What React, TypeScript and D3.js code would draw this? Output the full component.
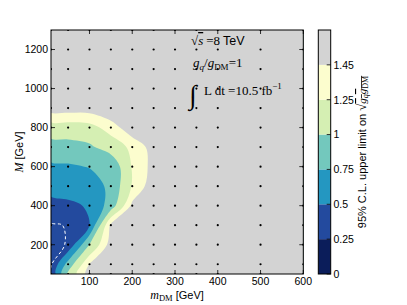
import * as d3 from "d3";

// signal grid: dark matter mass and mediator mass (GeV)
const mDM = [10, 50, 100, 150, 200, 250, 300, 350, 400, 500, 600];
const mMed = [50, 100, 200, 300, 400, 500, 600, 700, 800, 900, 1000, 1100, 1200, 1300];

// 95% CL upper limit on sqrt(gq gDM); one row per entry of mMed, columns follow mDM
const limits = [
  [0.29, 1.05, 1.55, 1.9, 2.1, 2.3, 2.5, 2.6, 2.7, 2.9, 3.0],
  [0.27, 0.85, 1.46, 1.85, 2.1, 2.3, 2.5, 2.6, 2.7, 2.9, 3.0],
  [0.26, 0.31, 1.0, 1.55, 1.9, 2.1, 2.3, 2.5, 2.6, 2.8, 3.0],
  [0.28, 0.31, 0.5, 1.5, 1.8, 2.0, 2.2, 2.4, 2.5, 2.7, 2.9],
  [0.44, 0.46, 0.52, 0.86, 1.5, 1.8, 2.0, 2.2, 2.4, 2.6, 2.8],
  [0.57, 0.59, 0.64, 0.8, 1.27, 1.58, 1.8, 2.0, 2.2, 2.5, 2.7],
  [0.705, 0.72, 0.76, 0.8, 1.27, 1.52, 1.8, 2.0, 2.2, 2.5, 2.7],
  [0.9, 0.91, 0.96, 1.12, 1.3, 1.54, 1.8, 2.0, 2.2, 2.5, 2.7],
  [1.13, 1.14, 1.17, 1.34, 1.6, 1.8, 2.0, 2.2, 2.3, 2.6, 2.8],
  [1.56, 1.55, 1.55, 1.65, 1.85, 2.0, 2.2, 2.3, 2.5, 2.7, 2.9],
  [1.9, 1.9, 1.9, 1.95, 2.1, 2.2, 2.3, 2.5, 2.6, 2.8, 3.0],
  [2.1, 2.1, 2.1, 2.15, 2.2, 2.3, 2.4, 2.6, 2.7, 2.9, 3.1],
  [2.3, 2.3, 2.3, 2.3, 2.4, 2.5, 2.6, 2.7, 2.8, 3.0, 3.2],
  [2.5, 2.5, 2.5, 2.5, 2.6, 2.6, 2.7, 2.8, 2.9, 3.1, 3.3],
];

const levels = [0, 0.25, 0.5, 0.75, 1, 1.25, 1.45];
const levelLabels = ["0", "0.25", "0.5", "0.75", "1", "1.25", "1.45"];
const bandColors = ["#0b1d5a", "#234a9e", "#2497c1", "#73c8bd", "#d5efb3", "#fcfdce", "#d3d3d3"];
const dashedLevel = 0.3;

const xTicks = [100, 200, 300, 400, 500, 600];
const yTicks = [200, 400, 600, 800, 1000, 1200];

const W = 407;
const H = 305;
const plot = { left: 51, top: 30, right: 303.3, bottom: 274 };
const cbar = { left: 318.3, right: 330.7 };

const SANS = "'Liberation Sans', Arial, Helvetica, sans-serif";
const SERIF = "'Liberation Serif', 'Times New Roman', serif";

export default function App() {
  const x = d3.scaleLinear().domain([10, 600]).range([plot.left, plot.right]);
  const y = d3.scaleLinear().domain([50, 1300]).range([plot.bottom, plot.top]);

  const nx = mDM.length;
  const ny = mMed.length;
  const values = limits.flat();

  // grid index space -> data space (sample i sits at i + 0.5 in d3.contours)
  const xIdx = d3.scaleLinear().domain(mDM.map((_, i) => i + 0.5)).range(mDM);
  const yIdx = d3.scaleLinear().domain(mMed.map((_, j) => j + 0.5)).range(mMed);

  const ringLine = d3.line().curve(d3.curveCatmullRomClosed.alpha(0.5));
  const toPath = (geom: any) =>
    geom.coordinates
      .map((poly: number[][][]) =>
        poly
          .map((ring) =>
            ringLine(ring.slice(0, -1).map(([px, py]) => [x(xIdx(px)), y(yIdx(py))] as [number, number]))
          )
          .join("")
      )
      .join("");

  const bands = d3.contours().size([nx, ny]).thresholds(levels)(values);
  const dashed = d3.contours().size([nx, ny]).contour(values, dashedLevel);

  const cb = d3.scaleLinear().domain([0, levels.length]).range([plot.bottom, plot.top]);

  return (
    <svg width={W} height={H} style={{ position: "absolute", left: 0, top: 0, display: "block" }}>
      <defs>
        <clipPath id="plotclip">
          <rect x={plot.left} y={plot.top} width={plot.right - plot.left} height={plot.bottom - plot.top} />
        </clipPath>
      </defs>
      <rect width={W} height={H} fill="#fff" />

      <g clipPath="url(#plotclip)">
        <rect x={plot.left} y={plot.top} width={plot.right - plot.left} height={plot.bottom - plot.top} fill={bandColors[6]} />
        {bands.map((c, i) => (
          <path key={i} d={toPath(c)} fill={bandColors[i]} stroke="none" />
        ))}
        <path d={toPath(dashed)} fill="none" stroke="#fff" strokeWidth={1} strokeDasharray="3,2.5" />
        {mMed.map((m) =>
          mDM.map((d) => <circle key={m + "-" + d} cx={x(d)} cy={y(m)} r={1.1} fill="#000" />)
        )}
      </g>

      {/* annotations */}
      <g fontFamily={SERIF} fontSize={13} fill="#000">
        <text x={191} y={45}>
          √<tspan fontStyle="italic" textDecoration="overline">s</tspan>
          <tspan dx={3}>=8</tspan>
          <tspan dx={3} fontFamily={SANS} fontSize={12.5}>TeV</tspan>
        </text>
        <text x={193} y={67}>
          <tspan fontStyle="italic">g</tspan>
          <tspan fontStyle="italic" fontSize={9} dy={3}>q</tspan>
          <tspan dy={-3}>/</tspan>
          <tspan fontStyle="italic">g</tspan>
          <tspan fontSize={9} dy={3}>DM</tspan>
          <tspan dy={-3}>=1</tspan>
        </text>
        <text x={189} y={104} fontSize={27} fontStyle="italic">∫</text>
        <text x={204} y={95}>
          L dt =10.5 fb<tspan fontSize={9} dy={-6}>−1</tspan>
        </text>
      </g>

      {/* frame and ticks */}
      <rect x={plot.left} y={plot.top} width={plot.right - plot.left} height={plot.bottom - plot.top} fill="none" stroke="#000" strokeWidth={1} />
      <g stroke="#000" strokeWidth={0.8}>
        {xTicks.map((t) => (
          <g key={"xt" + t}>
            <line x1={x(t)} x2={x(t)} y1={plot.bottom} y2={plot.bottom - 4} />
            <line x1={x(t)} x2={x(t)} y1={plot.top} y2={plot.top + 4} />
          </g>
        ))}
        {yTicks.map((t) => (
          <g key={"yt" + t}>
            <line x1={plot.left} x2={plot.left + 4} y1={y(t)} y2={y(t)} />
            <line x1={plot.right} x2={plot.right - 4} y1={y(t)} y2={y(t)} />
          </g>
        ))}
      </g>
      <g fontFamily={SANS} fontSize={10.5} fill="#000">
        {xTicks.map((t) => (
          <text key={"xl" + t} x={x(t)} y={285} textAnchor="middle">{t}</text>
        ))}
        {yTicks.map((t) => (
          <text key={"yl" + t} x={48} y={y(t) + 3.8} textAnchor="end">{t}</text>
        ))}
      </g>

      {/* axis labels */}
      <text x={177} y={299} textAnchor="middle" fontFamily={SANS} fontSize={11}>
        <tspan fontFamily={SERIF} fontStyle="italic" fontSize={12}>m</tspan>
        <tspan fontFamily={SERIF} fontSize={8.5} dy={2}>DM</tspan>
        <tspan dy={-2}> [GeV]</tspan>
      </text>
      <text transform="translate(23,152) rotate(-90)" textAnchor="middle" fontFamily={SANS} fontSize={11}>
        <tspan fontFamily={SERIF} fontStyle="italic" fontSize={12}>M</tspan> [GeV]
      </text>

      {/* colorbar */}
      {bandColors.map((c, i) => (
        <rect key={"cb" + i} x={cbar.left} y={cb(i + 1)} width={cbar.right - cbar.left} height={cb(i) - cb(i + 1)} fill={c} />
      ))}
      <rect x={cbar.left} y={plot.top} width={cbar.right - cbar.left} height={plot.bottom - plot.top} fill="none" stroke="#000" strokeWidth={1} />
      <g stroke="#000" strokeWidth={0.8}>
        {levels.map((_, i) => (
          <line key={"cbt" + i} x1={cbar.right} x2={cbar.right - 4} y1={cb(i)} y2={cb(i)} />
        ))}
      </g>
      <g fontFamily={SANS} fontSize={10.5} fill="#000">
        {levelLabels.map((l, i) => (
          <text key={"cbl" + i} x={333.5} y={cb(i) + 3.8}>{l}</text>
        ))}
      </g>
      <text transform="translate(366,152) rotate(-90)" textAnchor="middle" fontFamily={SANS} fontSize={11}>
        95% C.L. upper limit on <tspan fontFamily={SERIF} fontSize={13}>√</tspan>
        <tspan fontFamily={SERIF} fontStyle="italic" textDecoration="overline">g</tspan>
        <tspan fontFamily={SERIF} fontStyle="italic" fontSize={8} dy={2} textDecoration="overline">q</tspan>
        <tspan fontFamily={SERIF} fontStyle="italic" dy={-2} textDecoration="overline">g</tspan>
        <tspan fontFamily={SERIF} fontSize={8} dy={2} textDecoration="overline">DM</tspan>
      </text>
    </svg>
  );
}
